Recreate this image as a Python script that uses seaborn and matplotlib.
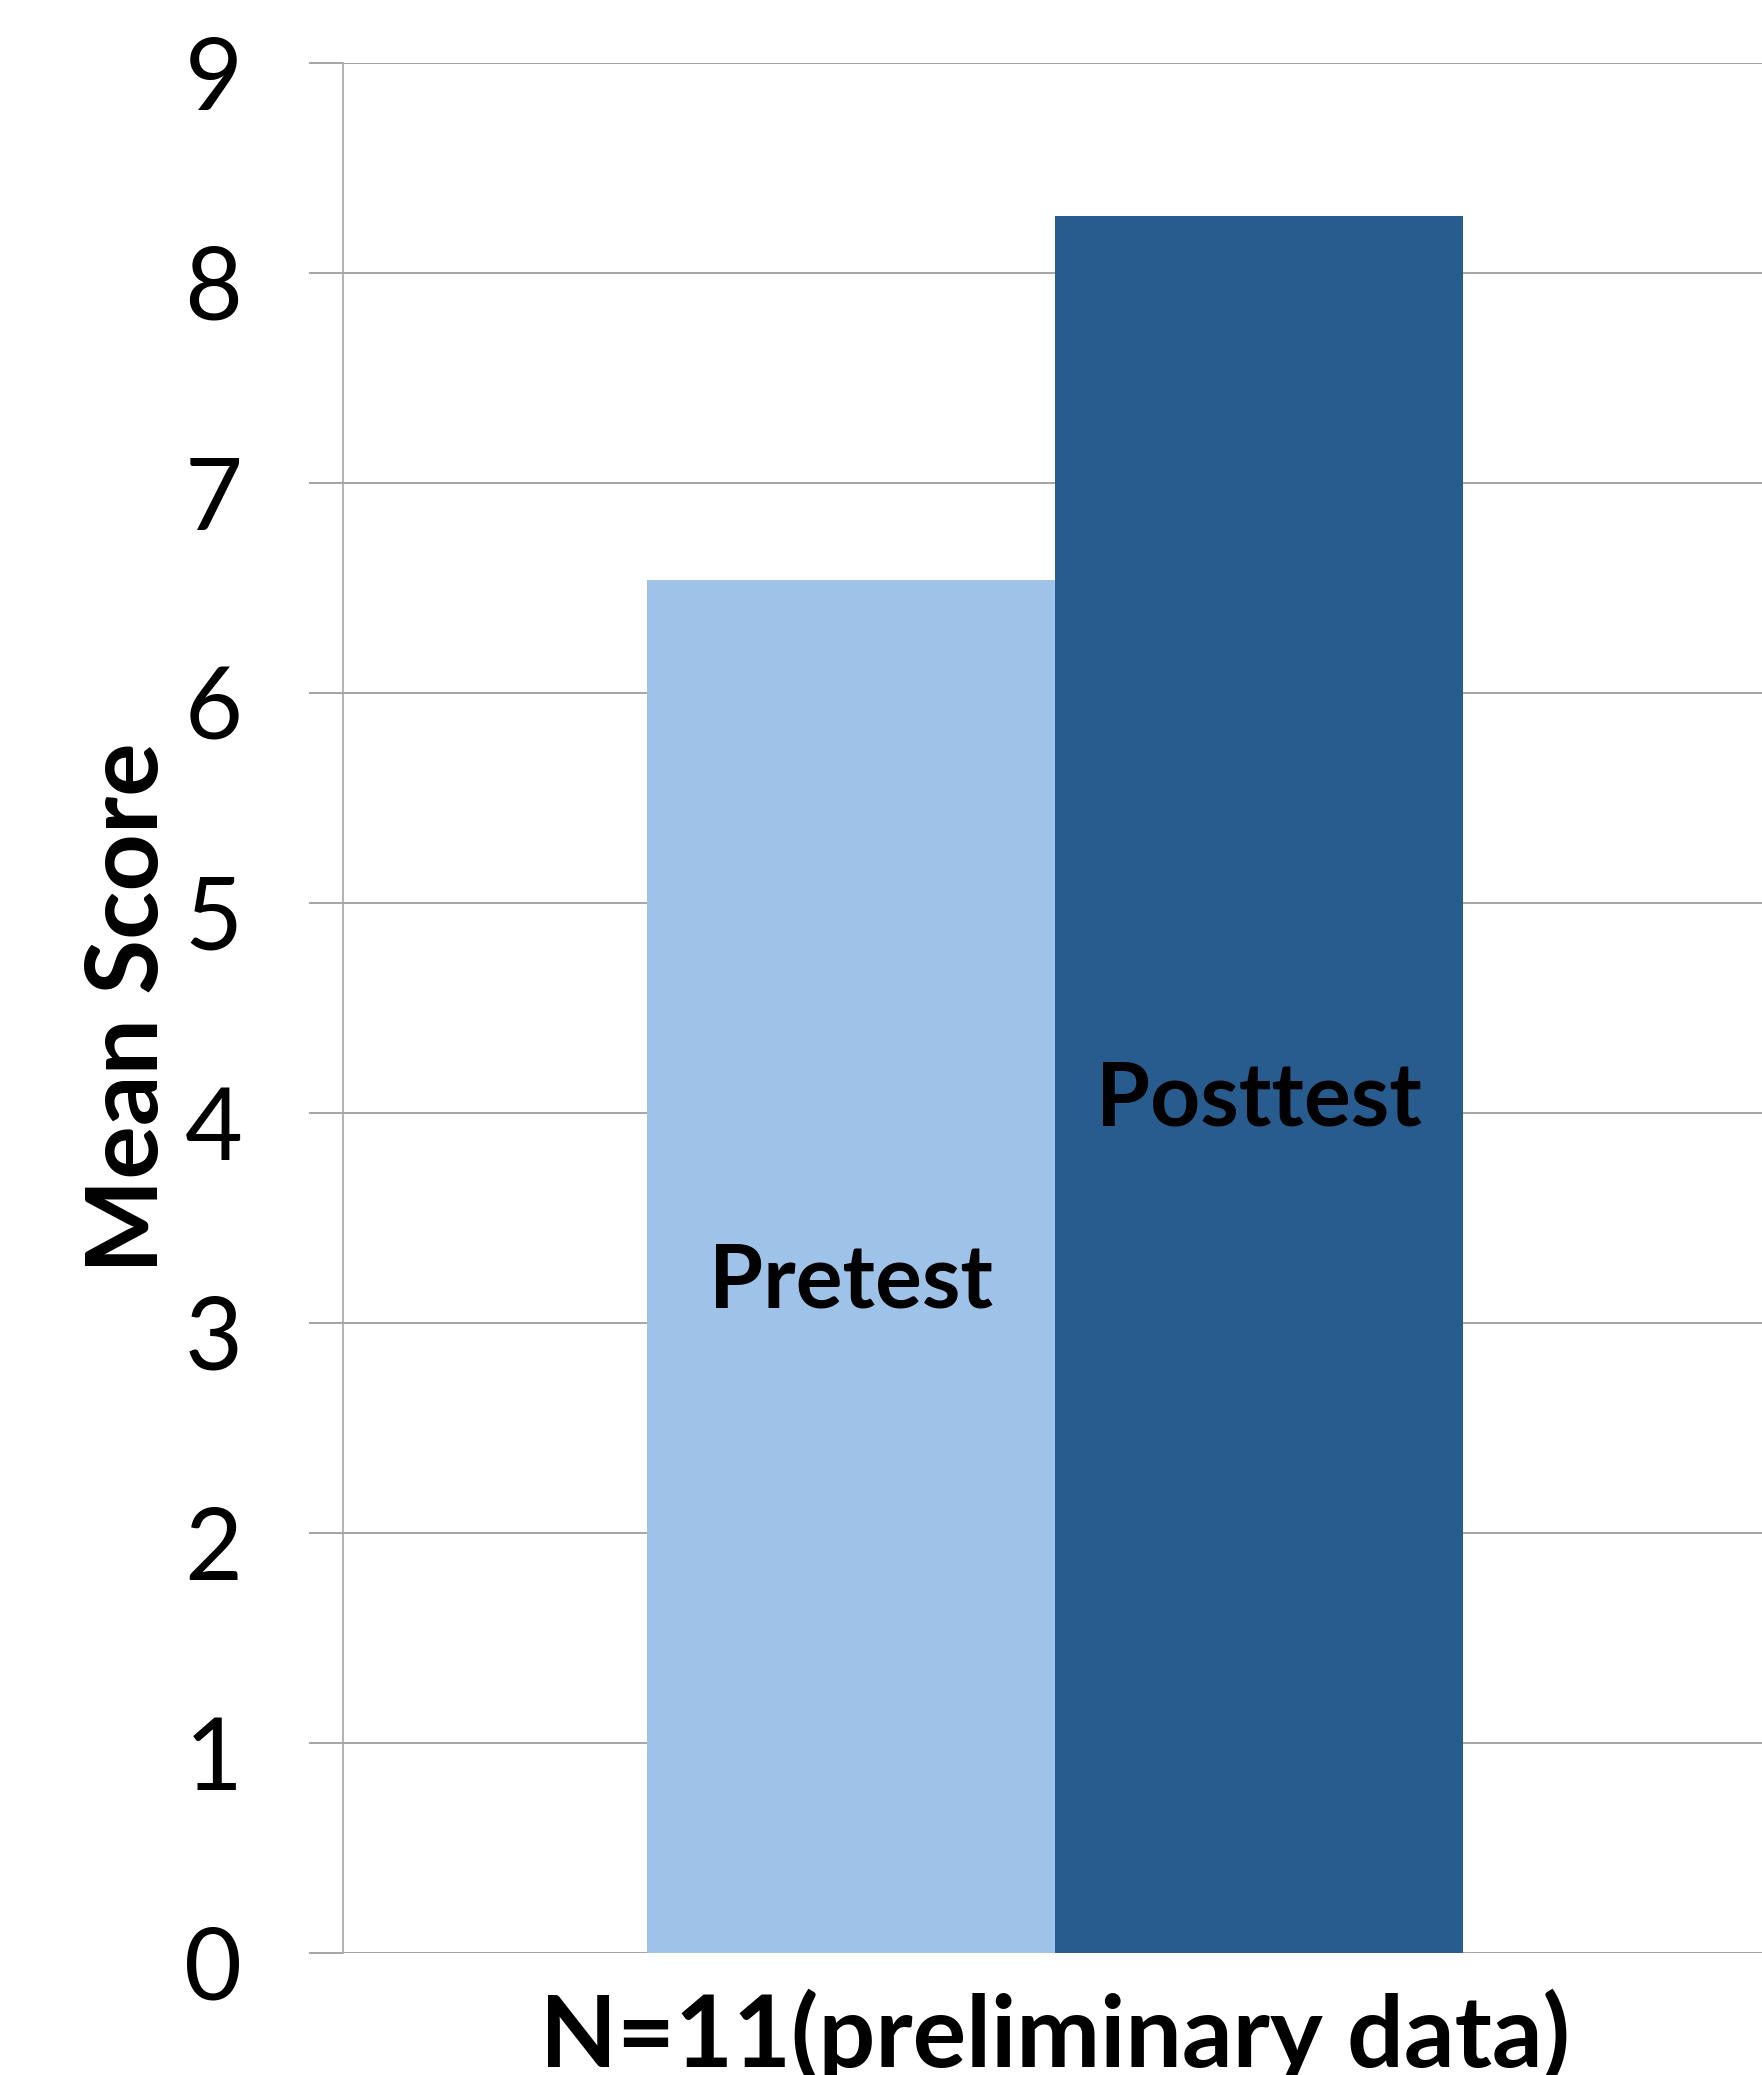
import numpy as np
import pandas as pd
import matplotlib
matplotlib.use('Agg')
import matplotlib.pyplot as plt
import matplotlib.transforms as mtrans
import seaborn as sns

# data
groups = ['N=11(preliminary data)', 'N=11(preliminary data)']
tests = ['Pretest', 'Posttest']
scores = [6.54, 8.27]
yticks = [0, 1, 2, 3, 4, 5, 6, 7, 8, 9]

df = pd.DataFrame({'group': groups, 'test': tests, 'score': scores})

sns.set_theme(style='white')
plt.rcParams['font.family'] = ['Lato', 'DejaVu Sans']

grid_col = '#A6A6A6'
fig = plt.figure(figsize=(17.62, 20.75), dpi=100)
ax = fig.add_axes([0.1947, 0.0588, 0.8053, 0.9108])

sns.barplot(data=df, x='group', y='score', hue='test',
            palette=['#9FC2E9', '#285C8F'], saturation=1, width=0.8,
            edgecolor='none', linewidth=0, legend=False, ax=ax)

# labels inside the bars, a bit below the middle as in the original
for cont, name in zip(ax.containers, tests):
    txts = ax.bar_label(cont, labels=[name], label_type='center',
                        fontsize=63, fontweight='bold', color='black')
    for t in txts:
        t.xyann = (0, -11)

ax.set_ylim(0, 9)
ax.set_xlim(-0.698, 0.693)
ax.set_yticks(yticks)
ax.set_yticklabels([str(t) for t in yticks])
ax.yaxis.grid(True, color=grid_col, linewidth=1.45)
ax.set_axisbelow(True)

for s in ['top', 'right', 'bottom']:
    ax.spines[s].set_visible(False)
ax.spines['left'].set_color(grid_col)
ax.spines['left'].set_linewidth(1.2)

ax.tick_params(axis='y', which='major', length=24.5, width=1.45, color=grid_col,
               pad=48, labelsize=72, labelcolor='black', left=True)
ax.tick_params(axis='x', length=0, pad=26, labelsize=72, labelcolor='black')
for lab in ax.get_xticklabels():
    lab.set_fontweight('bold')
# y tick labels sit a little below their gridlines
shift = mtrans.ScaledTranslation(0, -7 / 72, fig.dpi_scale_trans)
for lab in ax.get_yticklabels():
    lab.set_transform(lab.get_transform() + shift)

ax.set_xlabel('')
ax.set_ylabel('Mean Score', fontsize=72, fontweight='bold', labelpad=7,
              color='black')

fig.savefig('out.png', dpi=100)
